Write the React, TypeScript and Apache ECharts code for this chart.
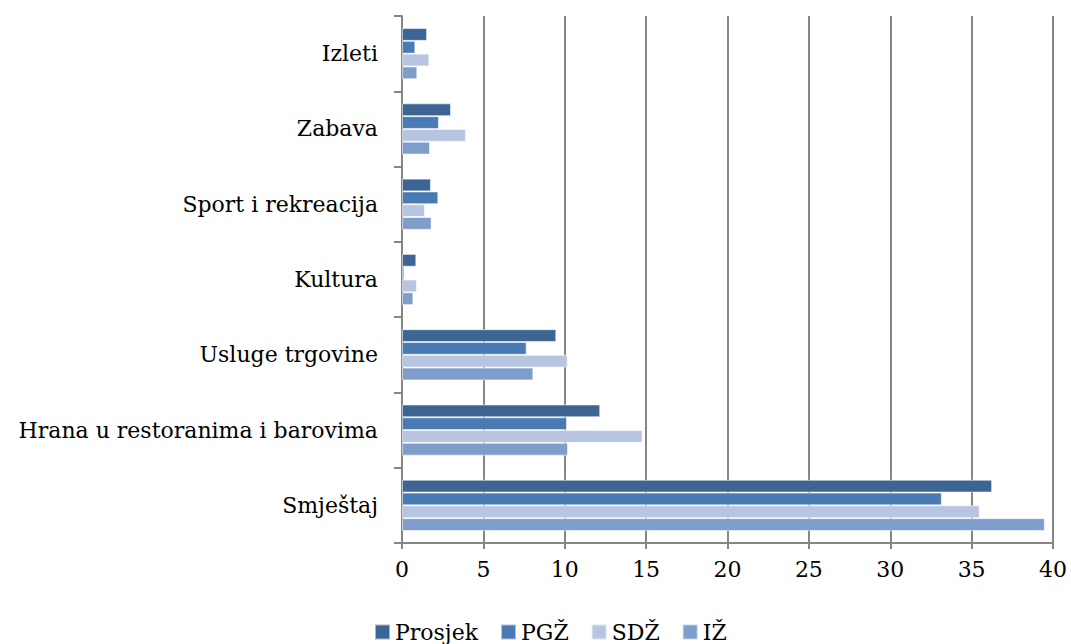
import React, { useEffect, useRef } from "react";
import * as echarts from "echarts";

const categories = [
  "Izleti",
  "Zabava",
  "Sport i rekreacija",
  "Kultura",
  "Usluge trgovine",
  "Hrana u restoranima i barovima",
  "Smještaj",
];
const seriesNames = ["Prosjek", "PGŽ", "SDŽ", "IŽ"];
const prosjek = [1.54, 3.01, 1.78, 0.88, 9.48, 12.18, 36.26];
const pgz = [0.82, 2.27, 2.23, 0.14, 7.66, 10.14, 33.17];
const sdz = [1.68, 3.93, 1.41, 0.92, 10.18, 14.78, 35.5];
const iz = [0.94, 1.72, 1.82, 0.7, 8.07, 10.2, 39.5];
const colors = ["#3D6594", "#4A7AB4", "#B7C5E0", "#7F9DCB"];
const xTicks = { min: 0, max: 40, interval: 5 };

const FONT = "'DejaVu Serif', serif";

export default function App() {
  const ref = useRef<HTMLDivElement>(null);
  useEffect(() => {
    if (!ref.current) return;
    const chart = echarts.init(ref.current, null, { renderer: "svg" });
    const values = [prosjek, pgz, sdz, iz];
    chart.setOption({
      animation: false,
      color: colors,
      grid: { left: 402, right: 18, top: 16, bottom: 101, containLabel: false },
      legend: {
        data: seriesNames,
        bottom: 1,
        left: 374,
        padding: 0,
        icon: "rect",
        itemWidth: 15,
        itemHeight: 15,
        itemGap: 22,
        textStyle: { fontFamily: FONT, fontSize: 22, color: "#000" },
      },
      xAxis: {
        type: "value",
        min: xTicks.min,
        max: xTicks.max,
        interval: xTicks.interval,
        axisLine: { show: true, lineStyle: { color: "#868686", width: 2 } },
        axisTick: { show: true, length: 6, lineStyle: { color: "#868686", width: 2 } },
        axisLabel: { fontFamily: FONT, fontSize: 22, color: "#000", margin: 15 },
        splitLine: { show: true, lineStyle: { color: "#868686", width: 2 } },
      },
      yAxis: {
        type: "category",
        data: categories,
        inverse: true,
        axisLine: { show: true, lineStyle: { color: "#868686", width: 2 } },
        axisTick: { show: true, length: 8, lineStyle: { color: "#868686", width: 2 } },
        axisLabel: { fontFamily: FONT, fontSize: 22, color: "#000", margin: 24 },
        splitLine: { show: false },
      },
      series: seriesNames.map((name, i) => ({
        name,
        type: "bar",
        data: values[i],
        barGap: "0%",
        barCategoryGap: "32%",
        itemStyle: { color: colors[i], borderColor: "rgba(255,255,255,0.55)", borderWidth: 1 },
      })),
    });
    return () => chart.dispose();
  }, []);
  return (
    <div
      ref={ref}
      style={{ position: "absolute", left: 0, top: 0, width: 1071, height: 644 }}
    />
  );
}
